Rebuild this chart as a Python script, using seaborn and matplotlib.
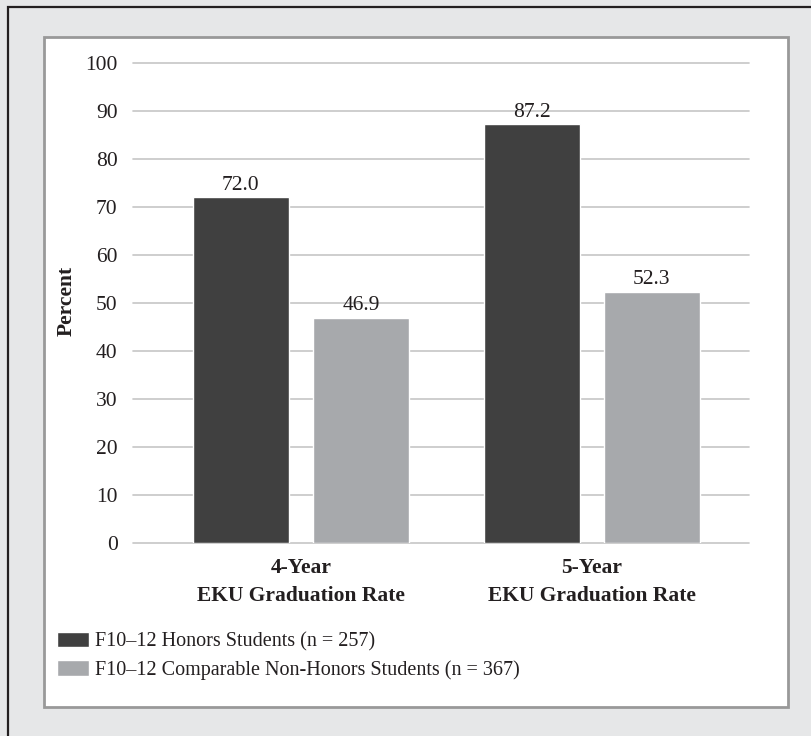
import matplotlib
matplotlib.use("Agg")
import matplotlib.pyplot as plt
from matplotlib.patches import Rectangle
import seaborn as sns
import pandas as pd

categories = ["4-Year\nEKU Graduation Rate", "5-Year\nEKU Graduation Rate"]
series_names = ["F10\u201312 Honors Students (n = 257)",
                "F10\u201312 Comparable Non-Honors Students (n = 367)"]
honors = [72.0, 87.2]
non_honors = [46.9, 52.3]
y_ticks = [0, 10, 20, 30, 40, 50, 60, 70, 80, 90, 100]
colors = ["#404040", "#a7a9ac"]

df = pd.DataFrame({
    "category": categories * 2,
    "group": [series_names[0]] * 2 + [series_names[1]] * 2,
    "value": honors + non_honors,
})

sns.set_theme(style="white")
plt.rcParams["font.family"] = ["Liberation Serif", "DejaVu Serif"]
plt.rcParams["text.color"] = "#231f20"

W, H = 811, 736
fig = plt.figure(figsize=(W / 100, H / 100), dpi=100, facecolor="#e6e7e8")

# outer frame (cropped at right/bottom)
fig.patches.append(Rectangle((7.5 / W, -0.1), 1.2, 1 - 6.5 / H + 0.1, transform=fig.transFigure,
                             facecolor="none", edgecolor="#231f20", lw=1.6, zorder=-2))
# inner white panel
fig.patches.append(Rectangle((43.5 / W, 1 - 707 / H), (787.5 - 43.5) / W, (707 - 36.5) / H,
                             transform=fig.transFigure, facecolor="white",
                             edgecolor="#999999", lw=2, zorder=-1))

ax = fig.add_axes([133 / W, 1 - 543 / H, (749 - 133) / W, (543 - 63) / H])
ax.set_zorder(2)
ax.set_facecolor("none")

sns.barplot(data=df, x="category", y="value", hue="group", palette=colors,
            width=0.825, gap=0.2, saturation=1, ax=ax, zorder=3)

for cont in ax.containers:
    ax.bar_label(cont, fmt="%.1f", padding=2, fontsize=15.5, color="#231f20")

ax.set_ylim(0, 100)
ax.set_xlim(-0.577, 1.54)
ax.set_yticks(y_ticks)
ax.yaxis.grid(True, color="#c6c6c6", lw=1.2, zorder=0)
for gl in ax.get_ygridlines():
    gl.set_clip_on(False)
ax.set_axisbelow(True)
for s in ax.spines.values():
    s.set_visible(False)
ax.tick_params(axis="y", length=0, pad=11, labelsize=15.5, labelcolor="#231f20")
ax.tick_params(axis="x", length=0, pad=11, labelsize=15.5, labelcolor="#231f20")
for lab in ax.get_xticklabels():
    lab.set_fontweight("bold")
    lab.set_linespacing(1.5)
ax.set_xlabel("")
ax.set_ylabel("")

fig.text(67 / W, 1 - 301 / H, "Percent", rotation=90, fontsize=15.5, fontweight="bold",
         ha="center", va="center", color="#231f20")

handles, labels = ax.get_legend_handles_labels()
ax.legend_.remove()
leg = fig.legend(handles, labels, loc="upper left", bbox_to_anchor=(57 / W, 1 - 632 / H),
                 frameon=False, fontsize=14.5, handlelength=1.6, handleheight=0.8,
                 handletextpad=0.3, labelspacing=0.42, borderaxespad=0, borderpad=0)
leg.set_zorder(3)

fig.savefig("out.png", dpi=100, facecolor=fig.get_facecolor())
